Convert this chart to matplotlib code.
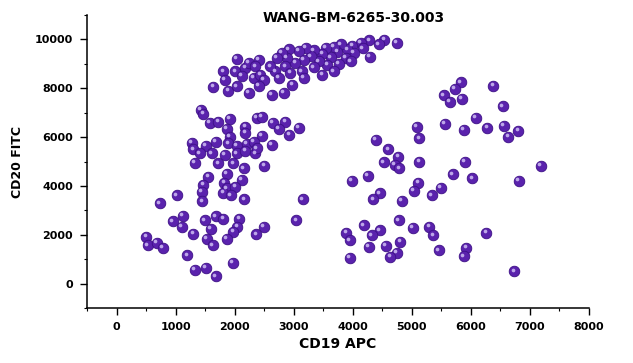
import matplotlib
matplotlib.use("Agg")
import matplotlib.pyplot as plt
import matplotlib.transforms as mtransforms
import numpy as np

# CD19 APC / CD20 FITC event values
x_right = [5826, 5725, 5544, 5640, 5850, 6378, 6536, 6082, 5560, 5878, 6281, 6558,
           6633, 6803, 5089, 5129, 5129, 5895, 7188, 5697, 6026, 6814, 5112, 5033,
           5486, 5339, 5016, 5299, 5367, 6264, 5458, 5923, 5878, 6735]
y_right = [8243, 7971, 7708, 7449, 7560, 8107, 7255, 6778, 6531, 6296, 6391, 6461,
           6021, 6255, 6432, 5953, 4992, 4992, 4815, 4473, 4309, 4198, 4128, 3786,
           3922, 3621, 2292, 2317, 1975, 2086, 1358, 1469, 1111, 506]

x_mid = [2650, 2860, 2746, 3086, 2928, 2633, 4391, 4601, 4771, 4522, 4715, 4788,
         4250, 3983, 4460, 4346, 4829, 3154, 3042, 4777, 4182, 3893, 4460, 4323,
         3949, 4267, 4562, 4806, 4749, 4635, 3949]
y_mid = [6572, 6613, 6337, 6366, 6091, 5679, 5885, 5500, 5198, 4967, 4856, 4720,
         4403, 4210, 3691, 3457, 3387, 3444, 2593, 2593, 2387, 2086, 2181, 1975,
         1770, 1495, 1536, 1700, 1248, 1084, 1043]

x_top = [4749, 4533, 4437, 4278, 4289, 4136, 4165, 3995, 4023, 3910, 3881, 3796,
         3740, 3682, 3767, 3626, 3540, 3484, 3569, 3427, 3341, 3285, 3341, 3484,
         3200, 3171, 3086, 3030, 3143, 2916, 2888, 2803, 2860, 2945, 2718, 2689,
         2746, 2974, 2831, 2633, 3171, 3682, 3966]
y_top = [9863, 9973, 9794, 9959, 9288, 9863, 9630, 9726, 9453, 9588, 9247, 9794,
         9494, 9683, 9000, 9272, 9658, 9411, 8971, 9107, 9547, 9313, 8861, 8560,
         9658, 9177, 9519, 9040, 8697, 9588, 9247, 9453, 8902, 8629, 9247, 8697,
         8424, 8148, 7807, 7737, 8424, 8697, 9107]

x_upleft = [2037, 1810, 1838, 1640, 1895, 2037, 2009, 2179, 2122, 2235, 2405, 2349,
            2320, 2434, 2490, 2235, 2405, 2604, 1430, 1469, 1583, 1724, 1923, 2378,
            2463]
y_upleft = [9205, 8697, 8354, 8053, 7901, 8078, 8697, 8834, 8519, 9040, 9177, 8902,
            8424, 8560, 8354, 7807, 8107, 8902, 7119, 6942, 6572, 6638, 6737, 6778,
            6819]

x_low = [1867, 2179, 2179, 1923, 2463, 1271, 1299, 1515, 1685, 1895, 2037, 2207,
         2320, 1413, 1612, 1838, 2037, 2179, 2349, 2378, 1328, 1724, 1980, 2150,
         2502, 1554, 1867, 2122, 1469, 1826, 1867, 1441, 2009, 1810, 1940, 1016,
         732, 1452, 2162, 1118, 948, 1101, 1498, 1685, 1810, 2082, 1595, 2048,
         1980, 1299, 2490, 2366, 506, 1526, 1867, 533, 686, 788, 1628, 1197,
         1969, 1328, 1515, 1680]
y_low = [6325, 6432, 6185, 6021, 6049, 5774, 5500, 5638, 5815, 5749, 5638, 5720,
         5815, 5337, 5337, 5267, 5337, 5444, 5337, 5543, 4951, 4926, 4926, 4720,
         4815, 4374, 4486, 4239, 4033, 4128, 3897, 3757, 3963, 3716, 3621, 3621,
         3280, 3374, 3444, 2770, 2551, 2317, 2593, 2757, 2663, 2646, 2251, 2317,
         2111, 2045, 2317, 2016, 1905, 1840, 1840, 1564, 1675, 1469, 1564, 1152,
         852, 576, 646, 300]

x_ticks = [0, 1000, 2000, 3000, 4000, 5000, 6000, 7000, 8000]
y_ticks = [0, 2000, 4000, 6000, 8000, 10000]

cd19 = np.array(x_right + x_mid + x_top + x_upleft + x_low)
cd20 = np.array(y_right + y_mid + y_top + y_upleft + y_low)

plt.rcParams["font.family"] = "DejaVu Sans"
plt.rcParams["font.weight"] = "bold"

fig = plt.figure(figsize=(6.33, 3.63), dpi=100)
ax = fig.add_axes([87 / 633, 1 - 308 / 363, 502 / 633, 293 / 363])

# sphere-like markers: body + small highlight shifted up/left
ax.scatter(cd19, cd20, s=58, color="#5a22ad", edgecolors="#3c0f86", linewidths=0.6, zorder=3)
shift = mtransforms.ScaledTranslation(-1.2 / 72, 1.2 / 72, fig.dpi_scale_trans)
ax.scatter(cd19, cd20, s=7, color="#c9b6f0", linewidths=0, alpha=0.9,
           transform=ax.transData + shift, zorder=4)

ax.set_xlim(-500, 8000)
ax.set_ylim(-1000, 11000)
ax.set_xticks(x_ticks)
ax.set_yticks(y_ticks)
ax.set_xticks(np.arange(-500, 8001, 500), minor=True)
ax.set_yticks(np.arange(-1000, 11001, 1000), minor=True)

for side in ["top", "right"]:
    ax.spines[side].set_visible(False)
for side in ["left", "bottom"]:
    ax.spines[side].set_linewidth(1.1)

ax.tick_params(which="major", direction="out", length=5, width=1, labelsize=8, pad=5)
ax.tick_params(which="minor", direction="out", length=2.5, width=0.8)
for lbl in ax.get_xticklabels() + ax.get_yticklabels():
    lbl.set_fontweight("bold")

ax.set_xlabel("CD19 APC", fontsize=10, fontweight="bold", labelpad=4)
ax.set_ylabel("CD20 FITC", fontsize=9, fontweight="bold", labelpad=8)
fig.text(354 / 633, 1 - 18 / 363, "WANG-BM-6265-30.003", fontsize=10, fontweight="bold",
         ha="center", va="center")

fig.savefig("out.png", dpi=100)
